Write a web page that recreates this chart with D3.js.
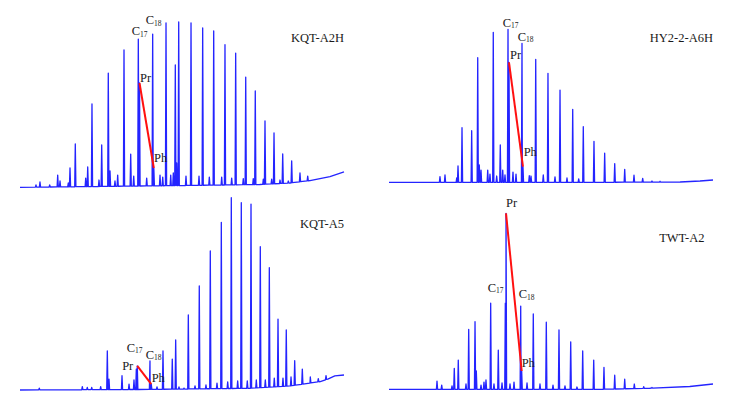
<!DOCTYPE html>
<html><head><meta charset="utf-8">
<script src="https://cdn.jsdelivr.net/npm/d3@7"></script>
<style>html,body{margin:0;padding:0;background:#fff;}svg{display:block;}</style>
</head><body><div id="chart"></div>
<script>
// ---------- DATA: retention time (min) and relative abundance (%) ----------
const samples = ["KQT-A2H", "HY2-2-A6H", "KQT-A5", "TWT-A2"];

const peaksKQTA2H = [[2.96,1.4],[3.70,3.2],[5.50,1.4],[6.98,7.4],[7.41,3.8],[8.94,2.6],[9.26,11.7],[10.24,26.2],[12.17,5.6],[12.54,12.3],[13.33,50.4],[14.63,4.4],[15.13,25.6],[16.35,69.1],[16.67,9.9],[17.59,3.8],[18.09,7.4],[19.26,83.1],[20.50,20.1],[21.06,6.8],[21.91,89.7],[22.13,63.1],[23.46,5.6],[24.57,92.7],[24.78,11.7],[25.93,7.4],[26.43,6.2],[27.04,99.4],[27.91,7.4],[28.39,8.7],[28.76,74.0],[29.02,14.7],[29.39,100],[30.74,6.8],[31.67,99.4],[33.15,6.8],[33.83,96.4],[35.06,6.2],[35.87,94.6],[37.35,6.2],[37.96,86.3],[39.20,5.6],[39.94,81.2],[41.35,5.3],[41.80,66.7],[43.20,5.3],[43.57,58.3],[45.06,5.0],[45.37,40.1],[46.61,5.0],[47.04,32.9],[48.15,4.4],[48.65,20.2],[49.69,3.8],[50.31,16.0],[51.85,8.7],[53.28,6.8]];
const baseKQTA2H = [[0,0],[14.8,0.5],[33.3,1.2],[44.4,1.7],[50,2.6],[53.7,4.1],[57.4,6.5],[60,9.3]];
const markKQTA2H = {C17:21.91, C18:24.57, Pr:22.13, Ph:24.78};

const peaksHY22A6H = [[9.44,3.7],[10.37,4.8],[12.54,2.8],[12.78,10.7],[13.52,35.7],[15.31,33.7],[16.43,81.4],[16.72,11.3],[17.04,8.0],[18.28,8.0],[18.70,5.4],[19.31,98.0],[19.94,4.1],[20.61,24.4],[21.06,8.0],[21.48,4.8],[22.04,100],[22.22,78.4],[22.96,6.7],[23.52,5.4],[24.63,90.8],[24.81,10.2],[25.98,4.3],[26.30,4.1],[27.17,80.4],[28.57,4.8],[29.44,71.2],[30.74,3.5],[31.67,60.3],[32.96,2.8],[34.02,47.7],[35.13,2.2],[35.98,36.3],[37.96,26.8],[39.94,19.0],[41.80,12.2],[43.65,8.5],[45.37,4.6],[46.98,2.6],[48.70,0.85],[50.19,0.65]];
const baseHY22A6H = [[0,0],[39.1,0],[53.9,0.2],[57.6,0.85],[60,1.5]];
const markHY22A6H = {C17:22.04, C18:24.63, Pr:22.22, Ph:24.81};

const peaksKQTA5 = [[3.57,1.0],[11.54,1.7],[12.46,1.3],[13.28,1.3],[14.94,1.8],[16.17,20.3],[16.48,5.7],[18.89,7.4],[20.19,3.1],[21.11,5.2],[21.54,10.9],[21.72,12.5],[24.07,15.1],[24.31,3.0],[25.37,1.6],[26.48,20.3],[28.20,16.1],[28.83,26.0],[29.44,1.6],[30.37,1.0],[31.17,39.0],[32.41,2.1],[33.20,54.1],[34.44,2.6],[35.24,72.3],[36.48,3.6],[37.28,87.2],[38.46,4.2],[39.13,100],[40.31,4.7],[40.98,97.4],[42.09,4.7],[42.78,96.7],[43.76,5.2],[44.50,74.5],[45.43,5.2],[46.17,63.6],[47.09,6.2],[47.78,36.9],[48.70,6.2],[49.31,31.2],[50.19,6.8],[50.87,15.2],[52.28,10.9],[53.76,6.8],[55.24,5.9],[56.67,7.5]];
const baseKQTA5 = [[0,0],[24.1,0.3],[42.6,0.9],[50,2.1],[53.7,3.6],[55.6,4.4],[57,5.7],[58.3,7.3],[60,7.8]];
const markKQTA5 = {C17:21.54, C18:24.07, Pr:21.72, Ph:24.31};

const peaksTWTA2 = [[8.89,4.7],[9.76,2.4],[11.67,1.9],[12.09,11.9],[12.83,16.6],[14.26,3.0],[14.76,34.1],[15.93,38.4],[16.17,10.4],[17.04,2.4],[17.59,4.1],[17.96,5.3],[18.83,48.9],[19.44,3.0],[20.24,22.3],[20.93,3.6],[21.54,48.9],[21.67,100],[22.41,3.0],[23.15,4.1],[24.39,47.3],[24.57,10.4],[25.56,3.6],[26.72,42.8],[27.96,3.0],[29.13,38.1],[30.37,2.4],[31.48,33.7],[32.59,1.9],[33.65,27.0],[34.81,1.3],[35.87,21.8],[37.91,16.6],[39.81,12.5],[41.80,8.0],[43.65,5.7],[45.43,3.0],[47.17,1.5],[48.70,1.0]];
const baseTWTA2 = [[0,0],[39.1,0],[48.3,0.6],[55.7,1.6],[60,3.0]];
const markTWTA2 = {C17:18.83, C18:24.39, Pr:21.67, Ph:24.57};

const timeDomain = [0, 60];
const abundDomain = [0, 100];

// ---------- LAYOUT ----------
const W = 736, H = 399;
const layout = [
  {x:[20,344],  y:[187.3,22],  name:{x:344, y:42},
   off:{C17:[-6.6,-4], C18:[-7,-9.7], Pr:[0.5,-1,"start"], Ph:[0.2,-6]}},
  {x:[389,713], y:[182.3,29.3], name:{x:713, y:42},
   off:{C17:[-5.3,-2.6], C18:[-4.3,-2.6], Pr:[1,-3,"start"], Ph:[0.7,-11]}},
  {x:[20,344],  y:[390,197.7], name:{x:344, y:228},
   off:{C17:[-9.6,-17.3], C18:[-4.3,-2], Pr:[-4,4,"end"], Ph:[0.4,-2.6]}},
  {x:[389,713], y:[389.3,213.3], name:{x:704.5, y:241.5},
   off:{C17:[-3,-11.6], C18:[-2,-7.7], Pr:[0,-6.3,"start"], Ph:[0,-4.3]}}
];
const peakSets = [peaksKQTA2H, peaksHY22A6H, peaksKQTA5, peaksTWTA2];
const baseSets = [baseKQTA2H, baseHY22A6H, baseKQTA5, baseTWTA2];
const markSets = [markKQTA2H, markHY22A6H, markKQTA5, markTWTA2];

const blue = "#2424ff", red = "#ff1010", textCol = "#1a1a1a";
const font = "'Liberation Serif','Times New Roman',serif";

const svg = d3.select("#chart").append("svg").attr("width", W).attr("height", H)
  .style("background", "#fff");

samples.forEach((name, i) => {
  const L = layout[i];
  const x = d3.scaleLinear().domain(timeDomain).range(L.x);
  const y = d3.scaleLinear().domain(abundDomain).range(L.y);
  const base = baseSets[i];
  const baseAt = d3.scaleLinear().domain(base.map(d => d[0])).range(base.map(d => d[1]));
  const hw = 0.11; // half-width of a peak in minutes
  const pts = base.map(d => [d[0], d[1]]);
  peakSets[i].forEach(([t, a]) => {
    pts.push([t - hw, baseAt(t - hw)]);
    pts.push([t, a]);
    pts.push([t + hw, baseAt(t + hw)]);
  });
  pts.sort((a, b) => a[0] - b[0]);
  const line = d3.line().x(d => x(d[0])).y(d => y(d[1]));
  const g = svg.append("g");
  g.append("path").attr("d", line(pts)).attr("fill", "none")
    .attr("stroke", blue).attr("stroke-width", 1.3).attr("stroke-linejoin", "round");

  const peakH = t => {
    const p = peakSets[i].find(d => Math.abs(d[0] - t) < 1e-6);
    return p ? p[1] : 0;
  };
  const M = markSets[i];
  // Pr-Ph red line
  g.append("line")
    .attr("x1", x(M.Pr)).attr("y1", y(peakH(M.Pr)))
    .attr("x2", x(M.Ph)).attr("y2", y(peakH(M.Ph)))
    .attr("stroke", red).attr("stroke-width", 2);

  // labels
  ["C17", "C18"].forEach(k => {
    const o = L.off[k];
    const tx = g.append("text")
      .attr("x", x(M[k]) + o[0]).attr("y", y(peakH(M[k])) + o[1])
      .attr("font-family", font).attr("font-size", 12.5).attr("fill", textCol);
    tx.append("tspan").text("C");
    tx.append("tspan").attr("font-size", 7.5).attr("dy", 1.5).text(k.slice(1));
  });
  ["Pr", "Ph"].forEach(k => {
    const o = L.off[k];
    g.append("text")
      .attr("x", x(M[k]) + o[0]).attr("y", y(peakH(M[k])) + o[1])
      .attr("text-anchor", o[2] || "start")
      .attr("font-family", font).attr("font-size", 12.5).attr("fill", textCol)
      .text(k);
  });
  g.append("text").attr("x", L.name.x).attr("y", L.name.y)
    .attr("text-anchor", "end").attr("font-family", font).attr("font-size", 12.5)
    .attr("fill", textCol).text(name);
});
</script></body></html>
